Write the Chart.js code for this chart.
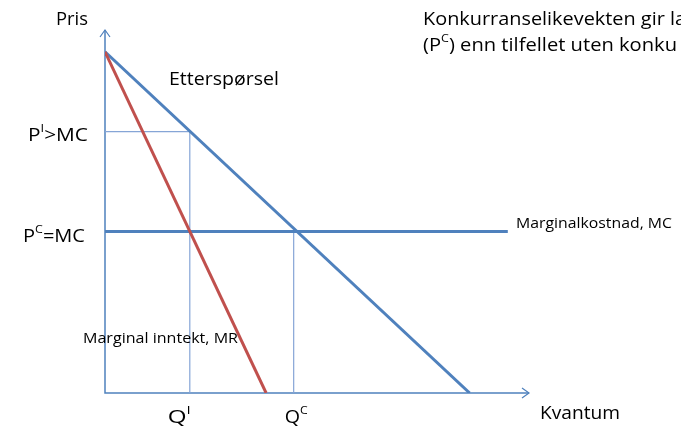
<!DOCTYPE html>
<html>
<head>
<meta charset="utf-8">
<script src="https://cdn.jsdelivr.net/npm/chart.js@4.4.0/dist/chart.umd.min.js"></script>
<style>
  html, body { margin: 0; padding: 0; background: #fff; overflow: hidden; }
</style>
</head>
<body>
<canvas id="chart" width="681" height="428"></canvas>
<script>
// kurver (kvantum, pris)
const demandQ = [0, 8.6];
const demandP = [9.4, 0];
const mrQ = [0, 3.8];
const mrP = [9.4, 0];
const mcQ = [0, 9.5];
const mcP = [4.45, 4.45];

// likevekter
const qMonopoly = 2.0;
const pMonopoly = 7.2;
const qCompetition = 4.45;
const pCompetition = 4.45;

const blue = "#4F81BD";
const lightBlue = "#86A5D6";
const red = "#C0504D";
const font = "'Open Sans', Lato, sans-serif";

function toPoints(xs, ys) {
  return xs.map((x, i) => ({ x: x, y: ys[i] }));
}

// tekst med hevet skrift (P^I>MC), strukket til bredden i originalen
function supText(ctx, parts, x, y, size, width) {
  let total = 0;
  parts.forEach((p) => {
    ctx.font = (p.sup ? size * 0.62 : size) + "px " + font;
    total += ctx.measureText(p.t).width;
  });
  const sx = width ? width / total : 1;
  ctx.save();
  ctx.translate(x, y);
  ctx.scale(sx, 1);
  ctx.textAlign = "left";
  let cx = 0;
  parts.forEach((p) => {
    ctx.font = (p.sup ? size * 0.62 : size) + "px " + font;
    ctx.fillText(p.t, cx, p.sup ? -size * 0.38 : 0);
    cx += ctx.measureText(p.t).width;
  });
  ctx.restore();
}

const annotations = {
  id: "annotations",
  beforeDatasetsDraw(chart) {
    const ctx = chart.ctx;
    const a = chart.chartArea;
    ctx.save();
    ctx.strokeStyle = blue;
    ctx.lineWidth = 1.5;
    ctx.beginPath();
    ctx.moveTo(a.left, a.top);
    ctx.lineTo(a.left, a.bottom);
    ctx.lineTo(a.right, a.bottom);
    ctx.stroke();
    ctx.lineWidth = 1.2;
    ctx.beginPath();
    ctx.moveTo(a.left - 5, a.top + 7);
    ctx.lineTo(a.left, a.top);
    ctx.lineTo(a.left + 5, a.top + 7);
    ctx.moveTo(a.right - 7, a.bottom - 5);
    ctx.lineTo(a.right, a.bottom);
    ctx.lineTo(a.right - 7, a.bottom + 5);
    ctx.stroke();
    ctx.restore();
  },
  afterDraw(chart) {
    const ctx = chart.ctx;
    const xs = chart.scales.x;
    const ys = chart.scales.y;
    const a = chart.chartArea;
    ctx.save();
    ctx.fillStyle = "#000";
    ctx.textBaseline = "middle";

    supText(ctx, [{ t: "Pris" }], 56, 20, 18, 32);
    supText(ctx, [{ t: "Kvantum" }], 540, 414, 18, 80);
    supText(ctx, [{ t: "Etterspørsel" }], 169, 80, 18, 110);

    supText(ctx, [{ t: "P" }, { t: "I", sup: true }, { t: ">MC" }],
      28, ys.getPixelForValue(pMonopoly) + 4, 18, 60);
    supText(ctx, [{ t: "P" }, { t: "C", sup: true }, { t: "=MC" }],
      23, ys.getPixelForValue(pCompetition) + 5, 18, 62);
    supText(ctx, [{ t: "Q" }, { t: "I", sup: true }],
      xs.getPixelForValue(qMonopoly) - 22, a.bottom + 25, 18, 23);
    supText(ctx, [{ t: "Q" }, { t: "C", sup: true }],
      xs.getPixelForValue(qCompetition) - 9, a.bottom + 25, 18, 23);

    supText(ctx, [{ t: "Marginal inntekt, MR" }], 83, 339, 14.8, 155);
    supText(ctx, [{ t: "Marginalkostnad, MC" }], 516, 224, 14.8, 156);

    supText(ctx, [{ t: "Konkurranselikevekten gir la" }], 423, 20, 17.5, 263);
    supText(ctx, [{ t: "(P" }, { t: "C", sup: true }, { t: ") enn tilfellet uten konku" }],
      423, 46, 17.5, 254);
    ctx.restore();
  },
};

new Chart(document.getElementById("chart"), {
  type: "scatter",
  data: {
    datasets: [
      {
        label: "Monopol",
        data: [
          { x: 0, y: pMonopoly },
          { x: qMonopoly, y: pMonopoly },
          { x: qMonopoly, y: 0 },
        ],
        borderColor: lightBlue,
        borderWidth: 1.2,
        order: 5,
      },
      {
        label: "Konkurranse",
        data: [
          { x: qCompetition, y: pCompetition },
          { x: qCompetition, y: 0 },
        ],
        borderColor: lightBlue,
        borderWidth: 1.2,
        order: 4,
      },
      {
        label: "Marginalkostnad, MC",
        data: toPoints(mcQ, mcP),
        borderColor: blue,
        borderWidth: 3,
        order: 3,
      },
      {
        label: "Etterspørsel",
        data: toPoints(demandQ, demandP),
        borderColor: blue,
        borderWidth: 3,
        order: 2,
      },
      {
        label: "Marginal inntekt, MR",
        data: toPoints(mrQ, mrP),
        borderColor: red,
        borderWidth: 3,
        order: 1,
      },
    ].map((d) => Object.assign(d, { showLine: true, pointRadius: 0, fill: false, tension: 0 })),
  },
  options: {
    responsive: false,
    animation: false,
    devicePixelRatio: 1,
    layout: { padding: { left: 105, right: 152, top: 30, bottom: 35 } },
    plugins: {
      legend: { display: false },
      tooltip: { enabled: false },
    },
    scales: {
      x: { type: "linear", min: 0, max: 10, display: false },
      y: { type: "linear", min: 0, max: 10, display: false },
    },
  },
  plugins: [annotations],
});
</script>
</body>
</html>
